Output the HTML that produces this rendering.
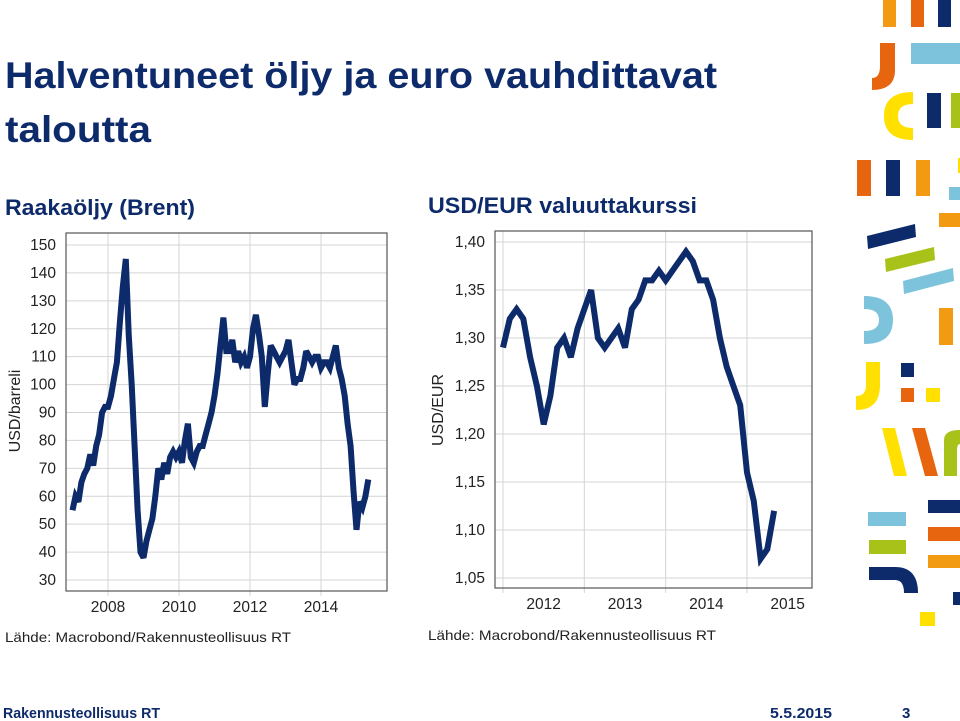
<!DOCTYPE html>
<html><head><meta charset="utf-8"><style>
html,body{margin:0;padding:0;background:#fff;}
svg{display:block;font-family:"Liberation Sans",sans-serif;}
</style></head><body>
<svg id="s" width="960" height="721" viewBox="0 0 960 721">
<text x="5" y="88" font-size="37" font-weight="bold" fill="#0d2a6b" textLength="712" lengthAdjust="spacingAndGlyphs">Halventuneet öljy ja euro vauhdittavat</text>
<text x="5" y="142" font-size="37" font-weight="bold" fill="#0d2a6b" textLength="146" lengthAdjust="spacingAndGlyphs">taloutta</text>
<text x="5" y="215" font-size="22" font-weight="bold" fill="#0d2a6b" textLength="190" lengthAdjust="spacingAndGlyphs">Raakaöljy (Brent)</text>
<text x="428" y="213" font-size="22" font-weight="bold" fill="#0d2a6b" textLength="269" lengthAdjust="spacingAndGlyphs">USD/EUR valuuttakurssi</text>
<text x="5" y="642" font-size="14" fill="#222" textLength="286" lengthAdjust="spacingAndGlyphs">Lähde: Macrobond/Rakennusteollisuus RT</text>
<text x="428" y="640" font-size="14" fill="#222" textLength="288" lengthAdjust="spacingAndGlyphs">Lähde: Macrobond/Rakennusteollisuus RT</text>
<text x="3" y="718" font-size="15" font-weight="bold" fill="#0d2a6b" textLength="157" lengthAdjust="spacingAndGlyphs">Rakennusteollisuus RT</text>
<text x="770" y="718" font-size="15" font-weight="bold" fill="#0d2a6b" textLength="62" lengthAdjust="spacingAndGlyphs">5.5.2015</text>
<text x="902" y="718" font-size="15" font-weight="bold" fill="#0d2a6b">3</text>
<g id="oil"></g>
<g id="fx"></g>
<g>
<rect x="883" y="0" width="13" height="27" fill="#f29a12"/>
<rect x="911" y="0" width="13" height="27" fill="#e8650f"/>
<rect x="938" y="0" width="13" height="27" fill="#0d2a6b"/>
<path d="M880 43 H895 V70 Q895 90 872 90 V78 Q880 78 880 66 Z" fill="#e8650f"/>
<rect x="911" y="43" width="49" height="21" fill="#7ec3dc"/>
<path d="M913 92 V104 Q898 104 898 116 Q898 128 913 128 V140 Q884 140 884 116 Q884 92 913 92 Z" fill="#ffe000"/>
<rect x="927" y="93" width="14" height="35" fill="#0d2a6b"/>
<rect x="951" y="93" width="9" height="35" fill="#a9c21a"/>
<rect x="857" y="160" width="14" height="36" fill="#e8650f"/>
<rect x="886" y="160" width="14" height="36" fill="#0d2a6b"/>
<rect x="916" y="160" width="14" height="36" fill="#f29a12"/>
<rect x="958" y="158" width="2" height="15" fill="#ffe000"/>
<rect x="949" y="187" width="11" height="13" fill="#7ec3dc"/>
<rect x="939" y="213" width="21" height="14" fill="#f29a12"/>
<polygon points="867,236 915,224 916,237 868,249" fill="#0d2a6b"/>
<polygon points="885,259 934,247 935,260 886,272" fill="#a9c21a"/>
<polygon points="903,281 953,268 954,281 904,294" fill="#7ec3dc"/>
<path d="M864 296 Q893 296 893 320 Q893 344 864 344 V331 Q879 331 879 320 Q879 309 864 309 Z" fill="#7ec3dc"/>
<rect x="939" y="308" width="14" height="37" fill="#f29a12"/>
<path d="M866 362 H880 V385 Q880 410 856 410 V396 Q866 396 866 385 Z" fill="#ffe000"/>
<rect x="901" y="363" width="13" height="14" fill="#0d2a6b"/>
<rect x="901" y="388" width="13" height="14" fill="#e8650f"/>
<rect x="926" y="388" width="14" height="14" fill="#ffe000"/>
<polygon points="882,428 895,428 907,476 894,476" fill="#ffe000"/>
<polygon points="912,428 925,428 938,476 925,476" fill="#e8650f"/>
<path d="M944 476 V440 Q944 430 960 430 V444 Q957 444 957 450 V476 Z" fill="#a9c21a"/>
<rect x="928" y="500" width="32" height="13" fill="#0d2a6b"/>
<rect x="868" y="512" width="38" height="14" fill="#7ec3dc"/>
<rect x="928" y="527" width="32" height="14" fill="#e8650f"/>
<rect x="869" y="540" width="37" height="14" fill="#a9c21a"/>
<rect x="928" y="555" width="32" height="13" fill="#f29a12"/>
<path d="M869 567 H895 Q918 567 918 593 H904 Q904 580 895 580 H869 Z" fill="#0d2a6b"/>
<rect x="953" y="592" width="7" height="13" fill="#0d2a6b"/>
<rect x="920" y="612" width="15" height="14" fill="#ffe000"/>
</g>
</svg>
<script>
// Oil (Brent) monthly, Jan 2007 .. May 2015
const oilStart = 2007.0;
const oilValues = [
55,60,58,65,68,70,75,71,78,82,90,92,
92,96,102,108,122,135,145,118,100,78,55,40,
38,44,48,52,60,70,66,72,68,74,76,74,
76,72,80,86,74,72,76,78,78,82,86,90,
96,104,114,124,112,112,116,108,112,108,110,106,
110,120,125,118,110,92,104,114,112,110,108,110,
112,116,108,100,102,102,106,112,110,108,110,110,
106,108,108,106,110,114,106,102,96,86,78,62,
48,58,56,60,66];
const oilYTicks = [30,40,50,60,70,80,90,100,110,120,130,140,150];
const oilXTicks = [2008,2010,2012,2014];
// USD/EUR monthly, Jan 2012 .. May 2015
const fxStart = 2012.0;
const fxValues = [
1.29,1.32,1.33,1.32,1.28,1.25,1.21,1.24,1.29,1.30,1.28,1.31,
1.33,1.35,1.30,1.29,1.30,1.31,1.29,1.33,1.34,1.36,1.36,1.37,
1.36,1.37,1.38,1.39,1.38,1.36,1.36,1.34,1.30,1.27,1.25,1.23,
1.16,1.13,1.07,1.08,1.12];
const fxYTicks = [1.05,1.10,1.15,1.20,1.25,1.30,1.35,1.40];
const fxYLabels = ["1,05","1,10","1,15","1,20","1,25","1,30","1,35","1,40"];
const fxXTicks = [2012,2013,2014,2015];

const NS="http://www.w3.org/2000/svg";
function mk(parent,tag,attrs){const e=document.createElementNS(NS,tag);for(const k in attrs)e.setAttribute(k,attrs[k]);parent.appendChild(e);return e;}

function drawChart(g,cfg){
  const X=v=>cfg.x0+(v-cfg.xv0)*(cfg.x1-cfg.x0)/(cfg.xv1-cfg.xv0);
  const Y=v=>cfg.y0+(v-cfg.yv0)*(cfg.y1-cfg.y0)/(cfg.yv1-cfg.yv0);
  cfg.yTicks.forEach((t,i)=>{
    const l=mk(g,'line',{x1:cfg.fx0,x2:cfg.fx1,y1:Y(t),y2:Y(t),stroke:'#d4d4d4','stroke-width':1});
    
    
    const tx=mk(g,'text',{x:cfg.fx0-10,y:Y(t)+5,'font-size':15.5,fill:'#222','text-anchor':'end'});
    tx.textContent=cfg.yLabels?cfg.yLabels[i]:String(t);
    
    
  });
  cfg.xTicks.forEach(t=>{
    const l=mk(g,'line',{x1:X(t),x2:X(t),y1:cfg.fy0,y2:cfg.fy1+5,stroke:'#d4d4d4','stroke-width':1});
    
    
    const tx=mk(g,'text',{x:X(t+cfg.labelShift),y:cfg.fy1+21,'font-size':15.5,fill:'#222','text-anchor':'middle'});
    tx.textContent=String(t);
    
    
  });
  const fr=mk(g,'rect',{x:cfg.fx0,y:cfg.fy0,width:cfg.fx1-cfg.fx0,height:cfg.fy1-cfg.fy0,fill:'none',stroke:'#555','stroke-width':1.2});
  
  
  const pts=cfg.values.map((v,i)=>X(cfg.start+i/12).toFixed(1)+','+Y(v).toFixed(1)).join(' ');
  const pl=mk(g,'polyline',{points:pts,fill:'none',stroke:'#0d2a6b','stroke-width':6,'stroke-linejoin':'miter','stroke-miterlimit':3});
  
  
  const at=mk(g,'text',{x:0,y:0,'font-size':16,fill:'#222','text-anchor':'middle',transform:`translate(${cfg.axX},${cfg.axY}) rotate(-90)`});
  at.textContent=cfg.axTitle;
  
  
}
drawChart(document.getElementById('oil'),{
  fx0:66,fx1:387,fy0:233,fy1:591,
  x0:108,x1:321,xv0:2008,xv1:2014,y0:580,y1:245,yv0:30,yv1:150,
  yTicks:oilYTicks,xTicks:oilXTicks,labelShift:0,values:oilValues,start:oilStart,
  axTitle:'USD/barreli',axX:20,axY:411});
drawChart(document.getElementById('fx'),{
  fx0:495,fx1:812,fy0:231,fy1:588,
  x0:503,x1:747,xv0:2012,xv1:2015,y0:578,y1:242,yv0:1.05,yv1:1.40,
  yTicks:fxYTicks,yLabels:fxYLabels,xTicks:fxXTicks,labelShift:0.5,values:fxValues,start:fxStart,
  axTitle:'USD/EUR',axX:443,axY:410});
</script>
</body></html>
